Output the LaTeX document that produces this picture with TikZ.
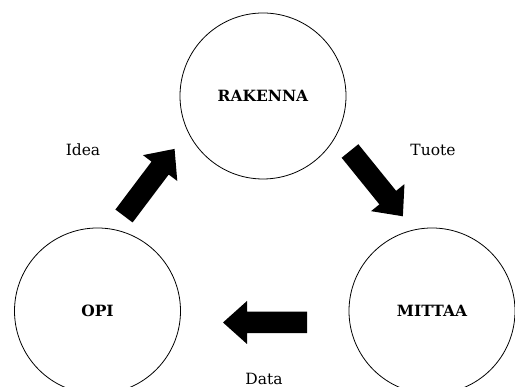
\documentclass[tikz,border=0pt]{standalone}
\usepackage{fontspec}
\setmainfont{DejaVu Serif}
\begin{document}
\begin{tikzpicture}[x=1pt,y=1pt,
  phase/.style={circle,draw=black,line width=0.8pt,minimum size=166pt,inner sep=0pt,
    font=\fontsize{15.5}{17}\selectfont\bfseries},
  lbl/.style={font=\fontsize{15.5}{17}\selectfont},
  blockarrow/.pic={\fill[black] (0,-10.75) -- (60,-10.75) -- (60,-21.5) -- (84,0)
     -- (60,21.5) -- (60,10.75) -- (0,10.75) -- cycle;}]
\useasboundingbox (0,0) rectangle (515,387);
\clip (0,0) rectangle (515,387);
\fill[white] (0,0) rectangle (515,387);
\node[phase] (rak) at (263,291) {RAKENNA};
\node[phase] (opi) at (97.5,76) {OPI};
\node[phase] (mit) at (432,76) {MITTAA};
\coordinate (ideatail) at (124,171);
\coordinate (tuotetail) at (350,236);
\coordinate (datatail) at (307,64.5);
\pic[rotate=53] at (ideatail) {blockarrow};
\pic[rotate=-51] at (tuotetail) {blockarrow};
\pic[rotate=180] at (datatail) {blockarrow};
\node[lbl] (idea) at (83,237) {Idea};
\node[lbl] (tuote) at (433,237) {Tuote};
\node[lbl,anchor=base,inner sep=0pt] (data) at (264,2.5) {Data};
\end{tikzpicture}
\end{document}
